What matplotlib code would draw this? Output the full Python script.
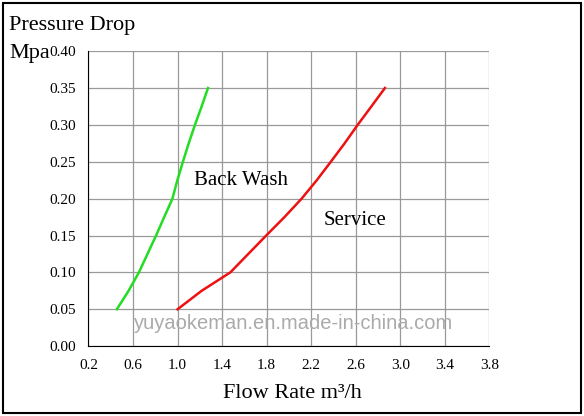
import matplotlib
matplotlib.use("Agg")
import matplotlib.pyplot as plt
from matplotlib.patches import Rectangle

bw_x = [0.455, 0.56, 0.653, 0.73, 0.807, 0.88, 0.954, 0.998, 1.048, 1.10, 1.156, 1.216, 1.273]
bw_y = [0.05, 0.075, 0.10, 0.125, 0.15, 0.175, 0.20, 0.225, 0.25, 0.275, 0.30, 0.325, 0.35]
sv_x = [1.0, 1.216, 1.474, 1.635, 1.796, 1.96, 2.114, 2.25, 2.376, 2.50, 2.617, 2.74, 2.862]
sv_y = [0.05, 0.075, 0.10, 0.125, 0.15, 0.175, 0.20, 0.225, 0.25, 0.275, 0.30, 0.325, 0.35]
xticks = [0.2, 0.6, 1.0, 1.4, 1.8, 2.2, 2.6, 3.0, 3.4, 3.8]
yticks = [0.00, 0.05, 0.10, 0.15, 0.20, 0.25, 0.30, 0.35, 0.40]

plt.rcParams['font.family'] = ['Liberation Serif', 'DejaVu Serif']
fig = plt.figure(figsize=(5.84, 4.16), dpi=100)
ax = fig.add_axes([0.1515, 0.168, 0.6865, 0.709])
ax.plot(bw_x, bw_y, color='#22dd22', lw=1.8)
ax.plot(sv_x, sv_y, color='#ee1111', lw=1.8)
ax.set_xlim(0.2, 3.8); ax.set_ylim(0, 0.40)
ax.set_xticks(xticks); ax.set_yticks(yticks)
ax.set_xticklabels([f"{v:.1f}" for v in xticks], fontsize=11)
ax.set_yticklabels([f"{v:.2f}" for v in yticks], fontsize=11)
ax.grid(True, color='#999999', lw=0.9)
ax.tick_params(length=0, pad=9)
for s in ['top', 'right']:
    ax.spines[s].set_visible(False)
ax.spines['left'].set_color('black'); ax.spines['bottom'].set_color('black')
ax.text(1.15, 0.225, "Back Wash", fontsize=15, va='center')
ax.text(2.31, 0.171, "Service", fontsize=15, va='center')
ax.text(2.04, 0.03, "yuyaokeman.en.made-in-china.com", fontsize=14.5, color='#aaaaaa',
        ha='center', va='center', family=['Liberation Sans'])
fig.text(0.016, 0.938, "Pressure Drop", fontsize=16, va='center')
fig.text(0.016, 0.872, "Mpa", fontsize=16, va='center')
fig.text(0.5, 0.055, "Flow Rate m³/h", fontsize=16, ha='center', va='center')
fig.patches.append(Rectangle((0.005, 0.007), 0.99, 0.986, transform=fig.transFigure,
                             fill=False, edgecolor='black', lw=1.5))
fig.savefig("out.png", dpi=100)
